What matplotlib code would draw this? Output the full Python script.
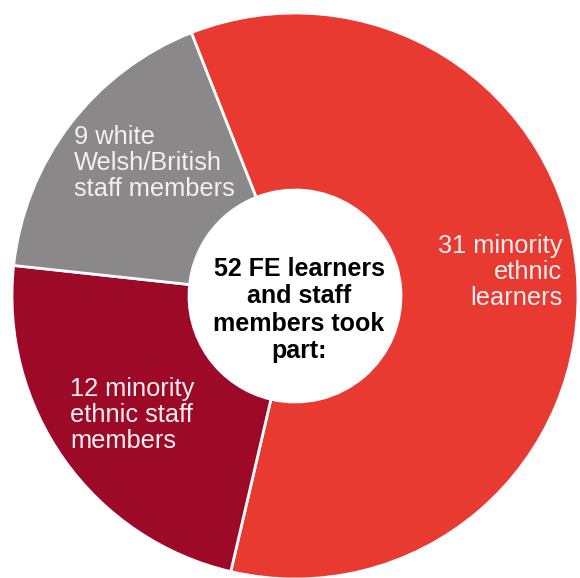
import matplotlib
matplotlib.use("Agg")
import matplotlib.pyplot as plt

# Data
categories = ["31 minority\nethnic\nlearners",
              "12 minority\nethnic staff\nmembers",
              "9 white\nWelsh/British\nstaff members"]
values = [31, 12, 9]
colors = ["#E83A30", "#9C0A28", "#8A8889"]
center_text = "52 FE learners\nand staff\nmembers took\npart:"

plt.rcParams['font.family'] = ['Liberation Sans', 'DejaVu Sans']

W, H = 580, 578
fig = plt.figure(figsize=(W / 100, H / 100), dpi=100)
ax = fig.add_axes([0, 0, 1, 1])

cx, cy, R = 295, 296, 283  # pixel geometry of the donut


def px(x, y):
    return (x - cx) / R, (cy - y) / R


wedges, _ = ax.pie(values, colors=colors, startangle=111.5, counterclock=False,
                   radius=1.0, wedgeprops=dict(width=1 - 106 / R, edgecolor="white", linewidth=2))

ax.set_xlim((0 - cx) / R, (W - cx) / R)
ax.set_ylim((cy - H) / R, cy / R)
ax.set_aspect("equal")
ax.axis("off")

txtc = "#F4F0F0"
fs = 18.3
x, y = px(562, 272)
ax.text(x, y, categories[0], ha="right", va="center", color=txtc, fontsize=fs, linespacing=1.1)
x, y = px(70, 415)
ax.text(x, y, categories[1], ha="left", va="center", color=txtc, fontsize=fs, linespacing=1.1)
x, y = px(74, 163)
ax.text(x, y, categories[2], ha="left", va="center", color=txtc, fontsize=fs, linespacing=1.1)
x, y = px(299, 310)
ax.text(x, y, center_text, ha="center", va="center", color="black", fontsize=18,
        fontweight="bold", linespacing=1.17)

fig.savefig("out.png", dpi=100, facecolor="white")
